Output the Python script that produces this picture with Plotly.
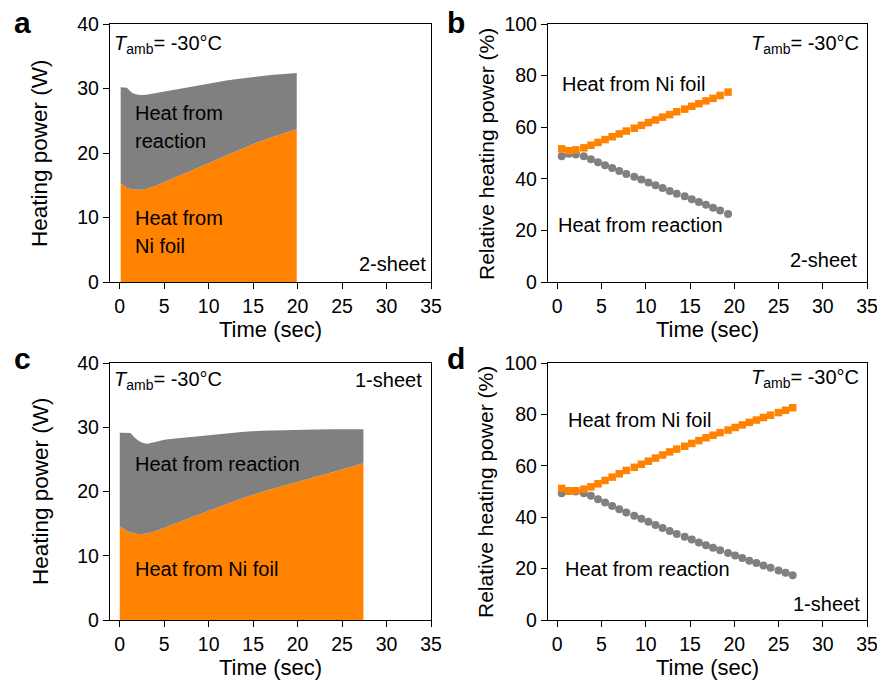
import plotly.graph_objects as go

# ---------------- data ----------------
# Panel a (2-sheet): heating power (W)
a_time = [0.1, 0.5, 0.8, 1.1, 1.4, 1.8, 2.3, 3, 4, 5, 6, 7, 8, 9, 10, 11, 12, 13, 14, 15, 16, 17, 18, 19, 19.9]
a_ni = [15.3, 14.9, 14.6, 14.45, 14.35, 14.3, 14.3, 14.45, 14.9, 15.5, 16.1, 16.7, 17.3, 17.9, 18.5,
        19.1, 19.7, 20.3, 20.85, 21.4, 21.9, 22.4, 22.85, 23.3, 23.7]
a_total = [30.2, 30.2, 30.1, 29.7, 29.3, 29.1, 29.0, 29.05, 29.3, 29.6, 29.85, 30.1, 30.35, 30.6, 30.85,
           31.05, 31.25, 31.45, 31.65, 31.8, 31.95, 32.1, 32.2, 32.3, 32.4]

# Panel c (1-sheet): heating power (W)
c_time = [0, 0.4, 0.8, 1.2, 1.6, 2.0, 2.5, 3.1, 4, 5, 6, 7, 8, 10, 12, 14, 16, 18, 20, 22, 24, 26, 27.4]
c_ni = [14.6, 14.2, 13.85, 13.6, 13.45, 13.4, 13.4, 13.45, 13.8, 14.3, 14.85, 15.4, 15.95, 17.0, 18.05,
        19.05, 19.95, 20.75, 21.5, 22.3, 23.05, 23.8, 24.4]
c_total = [29.15, 29.15, 29.15, 29.1, 28.5, 28.0, 27.6, 27.45, 27.7, 28.05, 28.2, 28.35, 28.5, 28.8, 29.05,
           29.3, 29.45, 29.55, 29.6, 29.65, 29.7, 29.7, 29.7]

# Panel b (2-sheet): relative heating power (%)
b_time = [0.5, 1.3, 2.1, 3.0, 3.8, 4.6, 5.4, 6.2, 7.0, 7.8, 8.7, 9.5, 10.3, 11.1, 11.9, 12.7,
          13.5, 14.4, 15.2, 16.0, 16.8, 17.6, 18.4, 19.3]
b_ni = [51.6, 50.9, 51.2, 52.0, 53.0, 54.1, 55.2, 56.3, 57.4, 58.5, 59.6, 60.7, 61.8, 62.8, 63.9, 64.9,
        66.0, 67.0, 68.1, 69.1, 70.2, 71.2, 72.3, 73.6]
b_reaction = [48.7, 49.7, 49.4, 48.7, 47.6, 46.4, 45.3, 44.2, 43.0, 41.9, 40.8, 39.7, 38.6, 37.5, 36.4,
              35.3, 34.2, 33.2, 32.1, 31.0, 29.9, 28.8, 27.7, 26.4]

# Panel d (1-sheet): relative heating power (%)
d_time = [0.5, 1.3, 2.1, 3.0, 3.8, 4.6, 5.4, 6.2, 7.0, 7.8, 8.7, 9.5, 10.3, 11.1, 11.9, 12.7, 13.5,
          14.4, 15.2, 16.0, 16.8, 17.6, 18.4, 19.3, 20.1, 20.9, 21.7, 22.5, 23.3, 24.1, 25.0, 25.8, 26.6]
d_ni = [51.2, 50.2, 50.3, 50.9, 51.8, 53.0, 54.3, 55.6, 56.9, 58.2, 59.4, 60.6, 61.8, 63.0, 64.2, 65.4,
        66.5, 67.6, 68.7, 69.8, 70.9, 71.9, 72.9, 73.9, 74.9, 75.9, 76.9, 77.8, 78.8, 79.7, 80.7, 81.6, 82.6]
d_reaction = [49.3, 50.2, 50.0, 49.3, 48.3, 47.0, 45.7, 44.4, 43.1, 41.8, 40.6, 39.4, 38.2, 37.0, 35.8,
              34.6, 33.5, 32.4, 31.3, 30.2, 29.1, 28.1, 27.1, 26.1, 25.1, 24.1, 23.1, 22.2, 21.2, 20.3,
              19.3, 18.4, 17.4]

x_ticks = [0, 5, 10, 15, 20, 25, 30, 35]
power_ticks = [0, 10, 20, 30, 40]
rel_ticks = [0, 20, 40, 60, 80, 100]

ORANGE = "#FF8200"
GRAY = "#808080"
FONT = "Liberation Sans, Arial, Helvetica, sans-serif"
W, H = 877, 681

fig = go.Figure()

# Area panels
for time, ni, total, xa, ya in [(a_time, a_ni, a_total, "x", "y"), (c_time, c_ni, c_total, "x3", "y3")]:
    fig.add_trace(go.Scatter(x=time, y=ni, mode="lines", line=dict(width=0, color=ORANGE),
                             fill="tozeroy", fillcolor=ORANGE, xaxis=xa, yaxis=ya, showlegend=False,
                             hoverinfo="skip"))
    fig.add_trace(go.Scatter(x=time, y=total, mode="lines", line=dict(width=0, color=GRAY),
                             fill="tonexty", fillcolor=GRAY, xaxis=xa, yaxis=ya, showlegend=False,
                             hoverinfo="skip"))

# Marker panels
for time, ni, rx, xa, ya in [(b_time, b_ni, b_reaction, "x2", "y2"), (d_time, d_ni, d_reaction, "x4", "y4")]:
    fig.add_trace(go.Scatter(x=time, y=rx, mode="markers",
                             marker=dict(symbol="circle", size=8, color=GRAY, line=dict(width=0)),
                             xaxis=xa, yaxis=ya, showlegend=False))
    fig.add_trace(go.Scatter(x=time, y=ni, mode="markers",
                             marker=dict(symbol="square", size=7.5, color=ORANGE, line=dict(width=0)),
                             xaxis=xa, yaxis=ya, showlegend=False))

# domains (paper coords from pixel geometry)
def px_x(p):
    return p / W

def px_y(p):
    return 1 - p / H

dom_x_left = [px_x(110), px_x(431)]
dom_x_right = [px_x(548), px_x(867)]
dom_y_top = [px_y(282), px_y(24)]
dom_y_bot = [px_y(620), px_y(363)]

axis_common = dict(showline=True, linecolor="black", linewidth=1.3, mirror=True, ticks="outside",
                   ticklen=6, tickwidth=1.3, tickcolor="black", showgrid=False, zeroline=False,
                   automargin=False, ticklabeloverflow="allow",
                   tickfont=dict(family=FONT, size=19.5, color="black"))

xr = [-1.1, 35]
xr2 = [-1.05, 35]
fig.update_layout(
    xaxis=dict(domain=dom_x_left, range=xr, tickvals=x_ticks, anchor="y", **axis_common),
    yaxis=dict(domain=dom_y_top, range=[0, 40], tickvals=power_ticks, anchor="x", **axis_common),
    xaxis2=dict(domain=dom_x_right, range=xr2, tickvals=x_ticks, anchor="y2", **axis_common),
    yaxis2=dict(domain=dom_y_top, range=[0, 100], tickvals=rel_ticks, anchor="x2", **axis_common),
    xaxis3=dict(domain=dom_x_left, range=xr, tickvals=x_ticks, anchor="y3", **axis_common),
    yaxis3=dict(domain=dom_y_bot, range=[0, 40], tickvals=power_ticks, anchor="x3", **axis_common),
    xaxis4=dict(domain=dom_x_right, range=xr2, tickvals=x_ticks, anchor="y4", **axis_common),
    yaxis4=dict(domain=dom_y_bot, range=[0, 100], tickvals=rel_ticks, anchor="x4", **axis_common),
    width=W, height=H, margin=dict(l=0, r=0, t=0, b=0, autoexpand=False),
    paper_bgcolor="white", plot_bgcolor="white",
    font=dict(family=FONT, color="black"),
)

anns = []

def txt(x, y, text, size=20, xanchor="left", yanchor="middle", angle=0, bold=False):
    if bold:
        text = "<b>" + text + "</b>"
    anns.append(dict(x=px_x(x), y=px_y(y), xref="paper", yref="paper", text=text, showarrow=False,
                     xanchor=xanchor, yanchor=yanchor, textangle=angle,
                     font=dict(family=FONT, size=size, color="black")))

TAMB = "<i>T</i><sub>amb</sub>= -30°C"

# panel letters
txt(12, 22, "a", size=30, bold=True)
txt(445, 22, "b", size=30, bold=True)
txt(12, 358, "c", size=30, bold=True)
txt(445, 358, "d", size=30, bold=True)

# axis titles
for cx, cy in [(270, 329), (707, 329), (270, 667), (707, 667)]:
    txt(cx, cy, "Time (sec)", size=22, xanchor="center")
txt(40, 153, "Heating power (W)", size=22.5, xanchor="center", angle=-90)
txt(40, 491, "Heating power (W)", size=22.5, xanchor="center", angle=-90)
txt(486, 154, "Relative heating power (%)", size=21, xanchor="center", angle=-90)
txt(486, 492, "Relative heating power (%)", size=21, xanchor="center", angle=-90)

# panel a
txt(112, 44, TAMB)
txt(133, 113, "Heat from")
txt(133, 141, "reaction")
txt(133, 218, "Heat from")
txt(133, 246, "Ni foil")
txt(428, 264, "2-sheet", xanchor="right")
# panel b
txt(861, 44, TAMB, xanchor="right")
txt(560, 84, "Heat from Ni foil")
txt(556, 225, "Heat from reaction")
txt(859, 260, "2-sheet", xanchor="right")
# panel c
txt(112, 380, TAMB)
txt(424, 380, "1-sheet", xanchor="right")
txt(133, 464, "Heat from reaction")
txt(133, 569, "Heat from Ni foil")
# panel d
txt(861, 378, TAMB, xanchor="right")
txt(566, 420, "Heat from Ni foil")
txt(563, 569, "Heat from reaction")
txt(862, 604, "1-sheet", xanchor="right")

fig.update_layout(annotations=anns)
fig.write_html("out.html", config={"displayModeBar": False},
               post_script="document.body.style.margin='0';document.body.style.overflow='hidden';")
